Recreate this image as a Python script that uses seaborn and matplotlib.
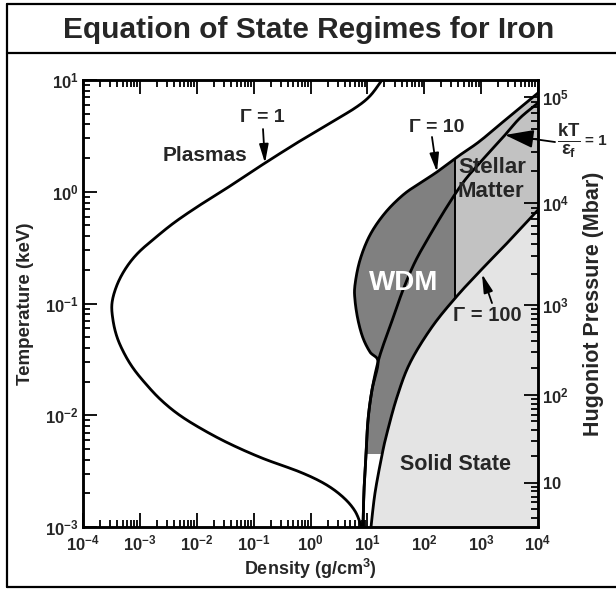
import numpy as np
import pandas as pd
import matplotlib
matplotlib.use("Agg")
import matplotlib.pyplot as plt
import seaborn as sns
from matplotlib.lines import Line2D
from matplotlib.ticker import NullFormatter, LogLocator

# ---------------- data (log10 values) ----------------
# Gamma = 1 curve : log10 density (g/cm3), log10 temperature (keV)
gamma1_log_rho = [1.257, 1.046, 0.782, 0.343, -0.185, -0.800, -1.415, -1.943, -2.382, -2.734,
                  -3.033, -3.244, -3.402, -3.490, -3.473, -3.402, -3.279, -3.121, -2.910, -2.646,
                  -2.330, -1.943, -1.451, -0.853, -0.185, 0.255, 0.571, 0.782, 0.900]
gamma1_log_T = [1.000, 0.857, 0.749, 0.615, 0.454, 0.257, 0.051, -0.119, -0.271, -0.414,
                -0.548, -0.682, -0.834, -0.996, -1.148, -1.300, -1.443, -1.577, -1.711, -1.855,
                -1.989, -2.114, -2.248, -2.383, -2.508, -2.615, -2.732, -2.857, -3.000]

# Gamma = 10 curve
gamma10_log_rho = [4.000, 3.508, 2.980, 2.629, 2.224, 1.925, 1.626, 1.310, 1.046, 0.870, 0.782,
                   0.782, 0.835, 0.923, 1.046, 1.187, 1.081, 1.011, 0.976, 0.941, 0.923]
gamma10_log_T = [0.884, 0.678, 0.454, 0.329, 0.177, 0.078, -0.029, -0.190, -0.387, -0.611, -0.834,
                 -0.969, -1.148, -1.309, -1.434, -1.523, -1.774, -2.043, -2.356, -2.669, -3.000]

# kT / eps_F = 1 curve
kt_log_rho = [4.000, 3.683, 3.420, 3.068, 2.716, 2.418, 2.101, 1.837, 1.626, 1.451, 1.310, 1.187,
              1.081, 1.011, 0.976, 0.941, 0.923]
kt_log_T = [0.794, 0.660, 0.508, 0.311, 0.105, -0.119, -0.387, -0.629, -0.879, -1.130, -1.327,
            -1.523, -1.774, -2.043, -2.356, -2.669, -3.000]

# Gamma = 100 curve
gamma100_log_rho = [4.000, 3.508, 3.033, 2.576, 2.136, 1.749, 1.521, 1.345, 1.257, 1.134, 1.064]
gamma100_log_T = [-0.163, -0.432, -0.682, -0.933, -1.210, -1.532, -1.837, -2.159, -2.356, -2.696, -3.000]

# region boundaries
wdm_stellar_split_rho = 350.0     # g/cm3, vertical line between WDM and stellar matter
wdm_low_T_cut = 4.5e-3            # keV, bottom of shaded WDM region

# axes ticks / labels
x_tick_values = [1e-4, 1e-3, 1e-2, 1e-1, 1e0, 1e1, 1e2, 1e3, 1e4]
x_tick_labels = [r"$\mathbf{10^{-4}}$", r"$\mathbf{10^{-3}}$", r"$\mathbf{10^{-2}}$", r"$\mathbf{10^{-1}}$",
                 r"$\mathbf{10^{0}}$", r"$\mathbf{10^{1}}$", r"$\mathbf{10^{2}}$", r"$\mathbf{10^{3}}$",
                 r"$\mathbf{10^{4}}$"]
y_tick_values = [1e-3, 1e-2, 1e-1, 1e0, 1e1]
y_tick_labels = [r"$\mathbf{10^{-3}}$", r"$\mathbf{10^{-2}}$", r"$\mathbf{10^{-1}}$",
                 r"$\mathbf{10^{0}}$", r"$\mathbf{10^{1}}$"]
# Hugoniot pressure axis (Mbar) and temperature (log10 keV) where each decade sits
pressure_values = [1e1, 1e2, 1e3, 1e4, 1e5]
pressure_log_T = [-2.606, -1.819, -1.013, -0.101, 0.848]
pressure_tick_labels = [r"$\mathbf{10}$", r"$\mathbf{10^{2}}$", r"$\mathbf{10^{3}}$",
                        r"$\mathbf{10^{4}}$", r"$\mathbf{10^{5}}$"]

# ---------------- style ----------------
sns.set_theme(style="white")
plt.rcParams["font.family"] = ["Liberation Sans", "DejaVu Sans"]
plt.rcParams["font.weight"] = "bold"
plt.rcParams["mathtext.fontset"] = "custom"
plt.rcParams["mathtext.rm"] = "Liberation Sans:bold"
plt.rcParams["mathtext.bf"] = "Liberation Sans:bold"
plt.rcParams["mathtext.it"] = "Liberation Sans:italic:bold"

W, H = 616, 590
fig = plt.figure(figsize=(W / 100, H / 100), dpi=100)
fig.patch.set_facecolor("white")
ax = fig.add_axes([83 / W, 1 - 527 / H, (538 - 83) / W, (527 - 80) / H])
ax.set_facecolor("white")
ax.set_xscale("log")
ax.set_yscale("log")
ax.set_xlim(1e-4, 1e4)
ax.set_ylim(1e-3, 1e1)


def smooth(lx, ly, n=24, sy=1.965):
    P = np.column_stack([np.asarray(lx, float), np.asarray(ly, float) * sy])
    P = np.vstack([P[0], P, P[-1]])
    t = np.linspace(0, 1, n, endpoint=False)[:, None]
    out = []
    for i in range(1, len(P) - 2):
        p0, p1, p2, p3 = P[i - 1], P[i], P[i + 1], P[i + 2]
        seg = 0.5 * (2 * p1 + (-p0 + p2) * t + (2 * p0 - 5 * p1 + 4 * p2 - p3) * t ** 2
                     + (-p0 + 3 * p1 - 3 * p2 + p3) * t ** 3)
        out.append(seg)
    out.append(P[-2][None, :])
    out = np.vstack(out)
    return out[:, 0], out[:, 1] / sy


def cross_x(x, y, c):
    i = int(np.argmax(x < c))
    f = (x[i - 1] - c) / (x[i - 1] - x[i])
    return i, y[i - 1] + f * (y[i] - y[i - 1])


def cross_y(x, y, c):
    i = int(np.argmax(y < c))
    f = (y[i - 1] - c) / (y[i - 1] - y[i])
    return i, x[i - 1] + f * (x[i] - x[i - 1])


g1x, g1y = smooth(gamma1_log_rho, gamma1_log_T)
g10x, g10y = smooth(gamma10_log_rho, gamma10_log_T)
ktx, kty = smooth(kt_log_rho, kt_log_T)
g100x, g100y = smooth(gamma100_log_rho, gamma100_log_T)

ls = np.log10(wdm_stellar_split_rho)
lc = np.log10(wdm_low_T_cut)
i_s, T10_s = cross_x(g10x, g10y, ls)
j_s, T100_s = cross_x(g100x, g100y, ls)
i_c, r10_c = cross_y(g10x, g10y, lc)
j_c, r100_c = cross_y(g100x, g100y, lc)

# solid state region
solid_x = np.concatenate([g100x, [4.0]])
solid_y = np.concatenate([g100y, [-3.0]])
ax.fill(10 ** solid_x, 10 ** solid_y, color="#e4e4e4", lw=0, zorder=1)

# stellar matter region
st_x = np.concatenate([g10x[:i_s], [ls, ls], g100x[:j_s][::-1]])
st_y = np.concatenate([g10y[:i_s], [T10_s, T100_s], g100y[:j_s][::-1]])
ax.fill(10 ** st_x, 10 ** st_y, color="#c2c2c2", lw=0, zorder=2)

# WDM region
wd_x = np.concatenate([[ls], g10x[i_s:i_c], [r10_c, r100_c], g100x[j_s:j_c][::-1], [ls]])
wd_y = np.concatenate([[T10_s], g10y[i_s:i_c], [lc, lc], g100y[j_s:j_c][::-1], [T100_s]])
ax.fill(10 ** wd_x, 10 ** wd_y, color="#808080", lw=0, zorder=3)

curves = pd.concat([
    pd.DataFrame({"rho": 10 ** g1x, "T": 10 ** g1y, "curve": "Gamma=1"}),
    pd.DataFrame({"rho": 10 ** g10x, "T": 10 ** g10y, "curve": "Gamma=10"}),
    pd.DataFrame({"rho": 10 ** ktx, "T": 10 ** kty, "curve": "kT/eF=1"}),
    pd.DataFrame({"rho": 10 ** g100x, "T": 10 ** g100y, "curve": "Gamma=100"}),
])
for name, d in curves.groupby("curve", sort=False):
    sns.lineplot(data=d, x="rho", y="T", sort=False, estimator=None, color="black",
                 lw=2.0, ax=ax, zorder=5)
ax.plot([wdm_stellar_split_rho] * 2, [10 ** T10_s, 10 ** T100_s], color="black", lw=1.4, zorder=5)

# ---------------- axes / ticks ----------------
ax.set_xticks(x_tick_values)
ax.set_xticklabels(x_tick_labels)
ax.set_yticks(y_tick_values)
ax.set_yticklabels(y_tick_labels)
ax.xaxis.set_minor_formatter(NullFormatter())
ax.yaxis.set_minor_formatter(NullFormatter())
ax.xaxis.set_minor_locator(LogLocator(base=10, subs=np.arange(2, 10), numticks=20))
ax.yaxis.set_minor_locator(LogLocator(base=10, subs=np.arange(2, 10), numticks=20))
ax.tick_params(which="both", direction="in", top=True, bottom=True, left=True, right=False,
               color="black", width=1.3)
ax.tick_params(which="major", length=10, labelsize=12)
ax.tick_params(which="minor", length=5)
ax.tick_params(axis="x", which="major", pad=5)
ax.tick_params(axis="y", which="major", pad=3)
for s in ax.spines.values():
    s.set_color("black")
    s.set_linewidth(1.8)
ax.set_xlabel("Density (g/cm$^3$)", fontsize=13, fontweight="bold")
ax.set_ylabel("Temperature (keV)", fontsize=13.5, fontweight="bold")
ax.xaxis.set_label_coords(0.5, (527 - 569) / 447)
ax.yaxis.set_label_coords((25 - 83) / 455, 0.5)
ax.xaxis.label.set_va("center")
ax.yaxis.label.set_va("center")

ax2 = ax.twinx()
ax2.set_yscale("log")
ax2.set_ylim(1e-3, 1e1)
lp = np.log10(pressure_values)
major_T = 10 ** np.array(pressure_log_T)
minor_lp = np.log10(np.concatenate([np.arange(2, 10) * 10.0 ** k for k in range(0, 5)]))
slope_lo = (pressure_log_T[1] - pressure_log_T[0]) / (lp[1] - lp[0])
minor_lT = np.interp(minor_lp, lp, pressure_log_T)
minor_lT = np.where(minor_lp < lp[0], pressure_log_T[0] + slope_lo * (minor_lp - lp[0]), minor_lT)
minor_lT = minor_lT[(minor_lT > -3) & (minor_lT < 1)]
ax2.set_yticks(major_T)
ax2.set_yticklabels(pressure_tick_labels)
ax2.set_yticks(10 ** minor_lT, minor=True)
ax2.yaxis.set_minor_formatter(NullFormatter())
ax2.tick_params(which="both", direction="in", right=True, left=False, color="black", width=1.3)
ax2.tick_params(which="major", length=10, labelsize=12, pad=3)
ax2.tick_params(which="minor", length=5)
ax2.grid(False)
for s in ax2.spines.values():
    s.set_color("black")
    s.set_linewidth(1.8)
ax2.set_ylabel("Hugoniot Pressure (Mbar)", fontsize=15.5, fontweight="bold", rotation=90)
ax2.yaxis.set_label_coords((593 - 83) / 455, 0.5)
ax2.yaxis.label.set_va("center")
ax2.yaxis.label.set_ha("center")

# ---------------- labels & arrows ----------------
arrow = dict(arrowstyle="-|>,head_length=0.8,head_width=0.2", color="black", lw=1.3,
             shrinkA=0, shrinkB=0, mutation_scale=14)
ax.text(10 ** -0.853, 10 ** 0.660, "Γ = 1", ha="center", va="center", fontsize=14, fontweight="bold", zorder=6)
ax.annotate("", xy=(10 ** -0.800, 10 ** 0.257), xytext=(10 ** -0.835, 10 ** 0.561), arrowprops=arrow, zorder=6)
ax.text(10 ** 2.224, 10 ** 0.579, "Γ = 10", ha="center", va="center", fontsize=14, fontweight="bold", zorder=6)
ax.annotate("", xy=(10 ** 2.224, 10 ** 0.177), xytext=(10 ** 2.136, 10 ** 0.490), arrowprops=arrow, zorder=6)
ax.text(10 ** 3.103, 10 ** -1.103, "Γ = 100", ha="center", va="center", fontsize=14.5, fontweight="bold", zorder=6)
ax.annotate("", xy=(10 ** 3.015, 10 ** -0.736), xytext=(10 ** 3.191, 10 ** -0.996), arrowprops=arrow, zorder=6)
ax.text(10 ** -1.855, 10 ** 0.320, "Plasmas", ha="center", va="center", fontsize=15, fontweight="bold", zorder=6)
ax.text(10 ** 2.593, 10 ** 0.213, "Stellar", ha="left", va="center", fontsize=16, fontweight="bold", zorder=6)
ax.text(10 ** 2.593, 10 ** -0.002, "Matter", ha="left", va="center", fontsize=16, fontweight="bold", zorder=6)
ax.text(10 ** 1.644, 10 ** -0.817, "WDM", ha="center", va="center", fontsize=20, fontweight="bold",
        color="white", zorder=6)
ax.text(10 ** 2.558, 10 ** -2.445, "Solid State", ha="center", va="center", fontsize=15.5, fontweight="bold", zorder=6)

big_arrow = dict(arrowstyle="-|>,head_length=1.1,head_width=0.35", color="black", lw=1.3,
                 shrinkA=0, shrinkB=0, mutation_scale=16)
ax.annotate("", xy=(10 ** 3.420, 10 ** 0.508), xytext=(10 ** 4.299, 10 ** 0.445), arrowprops=big_arrow,
            annotation_clip=False, zorder=6)
ax.text(10 ** 4.545, 10 ** 0.454, r"$\mathbf{\frac{kT}{\epsilon_f}}$", ha="center", va="center",
        fontsize=19, clip_on=False, zorder=6)
ax.text(10 ** 5.010, 10 ** 0.454, "= 1", ha="center", va="center", fontsize=11, fontweight="bold",
        clip_on=False, zorder=6)

# ---------------- title & frame ----------------
fig.text(309 / W, 1 - 30 / H, "Equation of State Regimes for Iron", ha="center", va="center",
         fontsize=21.5, fontweight="bold")
for (x0, y0, x1, y1) in [(7, 4, 616, 4), (7, 53, 616, 53), (7, 587, 616, 587), (7, 4, 7, 587)]:
    fig.add_artist(Line2D([x0 / W, x1 / W], [1 - y0 / H, 1 - y1 / H], transform=fig.transFigure,
                          color="black", lw=1.6))

fig.savefig("out.png", dpi=100)
